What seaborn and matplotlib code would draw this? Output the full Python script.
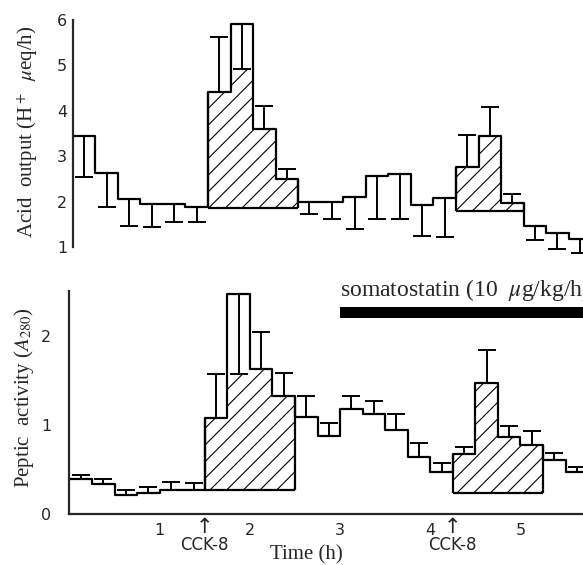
import matplotlib
matplotlib.use("Agg")
import matplotlib.pyplot as plt
import matplotlib.transforms as mtransforms
import seaborn as sns
import numpy as np

# 15-min collection periods, t = 0 .. 5.75 h
bin_edges = [i * 0.25 for i in range(24)]

# Acid output (H+ ueq/h): mean and end of the error bar
acid_mean = [3.44, 2.63, 2.06, 1.95, 1.95, 1.88, 4.41, 5.91, 3.60, 2.50, 1.99, 1.99,
             2.10, 2.56, 2.61, 1.93, 2.08, 2.76, 3.44, 1.97, 1.46, 1.31, 1.18]
acid_err = [2.54, 1.88, 1.46, 1.44, 1.55, 1.55, 5.63, 4.92, 4.10, 2.72, 1.73, 1.62,
            1.40, 1.62, 1.62, 1.24, 1.22, 3.47, 4.08, 2.17, 1.15, 0.96, 0.87]
acid_hatch = [(6, 10, 1.86), (17, 20, 1.79)]  # (first bin, end bin, baseline)

# Peptic activity (A280)
pep_mean = [0.39, 0.34, 0.21, 0.24, 0.27, 0.27, 1.08, 2.47, 1.63, 1.33, 1.09, 0.88,
            1.18, 1.12, 0.94, 0.64, 0.47, 0.67, 1.47, 0.87, 0.78, 0.61, 0.47]
pep_err = [0.44, 0.39, 0.27, 0.30, 0.36, 0.35, 1.57, 1.57, 2.04, 1.58, 1.32, 1.02,
           1.32, 1.27, 1.12, 0.80, 0.57, 0.75, 1.84, 0.99, 0.93, 0.69, 0.53]
pep_hatch = [(6, 10, 0.27), (17, 21, 0.24)]

cck_times = [1.5, 4.25]
soma_start = 3.0

sns.set_style("white")
plt.rcParams["font.family"] = ["DejaVu Sans"]
plt.rcParams["mathtext.fontset"] = "stix"
plt.rcParams["hatch.linewidth"] = 0.8
plt.rcParams["hatch.color"] = "black"

serif = ["Liberation Serif", "DejaVu Serif"]

fig = plt.figure(figsize=(5.83, 5.65), dpi=100)
ax1 = fig.add_axes([0.1247, 0.5483, 0.8818, 0.4243])
ax2 = fig.add_axes([0.1192, 0.0903, 0.8818, 0.4285])


def draw_panel(ax, mean, err, hatches):
    x = np.array(bin_edges)
    y = np.array(mean + [mean[-1]])
    sns.lineplot(x=x, y=y, ax=ax, drawstyle="steps-post", estimator=None, sort=False,
                 color="black", linewidth=1.6)
    mean = np.array(mean)
    err = np.array(err)
    centers = x[:-1] + 0.125
    lower = np.clip(mean - err, 0, None)
    upper = np.clip(err - mean, 0, None)
    ax.errorbar(centers, mean, yerr=[lower, upper], fmt="none", ecolor="black",
                elinewidth=1.4, capsize=6.5, capthick=1.4)
    for i0, i1, base in hatches:
        top = np.minimum(mean[i0:i1], err[i0:i1])
        ax.fill_between(x[i0:i1 + 1], base, np.append(top, top[-1]), step="post",
                        facecolor="none", edgecolor="black", hatch="//", linewidth=0)
        ax.hlines(base, x[i0], x[i1], color="black", linewidth=1.6)
        ax.vlines([x[i0], x[i1]], base, [mean[i0], mean[i1 - 1]], color="black", linewidth=1.6)


draw_panel(ax1, acid_mean, acid_err, acid_hatch)
draw_panel(ax2, pep_mean, pep_err, pep_hatch)

# top panel
ax1.set_xlim(0, 5.7)
ax1.set_ylim(0.82, 6.1)
ax1.set_xticks([])
ax1.set_yticks([1, 2, 3, 4, 5, 6])
for s in ["top", "right", "bottom"]:
    ax1.spines[s].set_visible(False)
ax1.spines["left"].set_bounds(1, 6)
ax1.spines["left"].set_linewidth(1.6)
ax1.tick_params(axis="y", direction="out", length=3, width=1.2, labelsize=11.5, pad=1)
ax1.text(-0.088, 0.514, "Acid  output (H$^+$  $\\mu$eq/h)", transform=ax1.transAxes,
         rotation=90, ha="center", va="center", fontsize=15, family=serif)

# bottom panel
ax2.set_xlim(0, 5.7)
ax2.set_ylim(0, 2.72)
ax2.set_xticks([1, 2, 3, 4, 5])
ax2.set_yticks([0, 1, 2])
for s in ["top", "right"]:
    ax2.spines[s].set_visible(False)
ax2.spines["left"].set_bounds(0, 2.5)
ax2.spines["left"].set_linewidth(1.6)
ax2.spines["bottom"].set_linewidth(1.6)
ax2.tick_params(axis="both", direction="out", length=3, width=1.2, labelsize=11.5)
ax2.tick_params(axis="y", pad=10)
ax2.set_xlabel("")
ax2.set_ylabel("")
ax2.text(-0.088, 0.483, "Peptic  activity ($A_{280}$)", transform=ax2.transAxes,
         rotation=90, ha="center", va="center", fontsize=15, family=serif)

trans = mtransforms.blended_transform_factory(ax2.transData, ax2.transAxes)
for t in cck_times:
    ax2.text(t, -0.054, "\u2191", transform=trans, ha="center", va="center", fontsize=15)
    ax2.text(t, -0.13, "CCK-8", transform=trans, ha="center", va="center", fontsize=12)
ax2.text(2.63, -0.168, "Time (h)", transform=trans, ha="center", va="center",
         fontsize=15, family=serif)

# somatostatin infusion bar
ax2.fill_between([soma_start, 6.0], 2.2, 2.33, color="black", linewidth=0, clip_on=False)
ax2.text(soma_start, 2.52, "somatostatin (10  $\\mu$g/kg/h)", ha="left", va="center",
         fontsize=17, family=serif, clip_on=False)

fig.savefig("out.png", dpi=100)
